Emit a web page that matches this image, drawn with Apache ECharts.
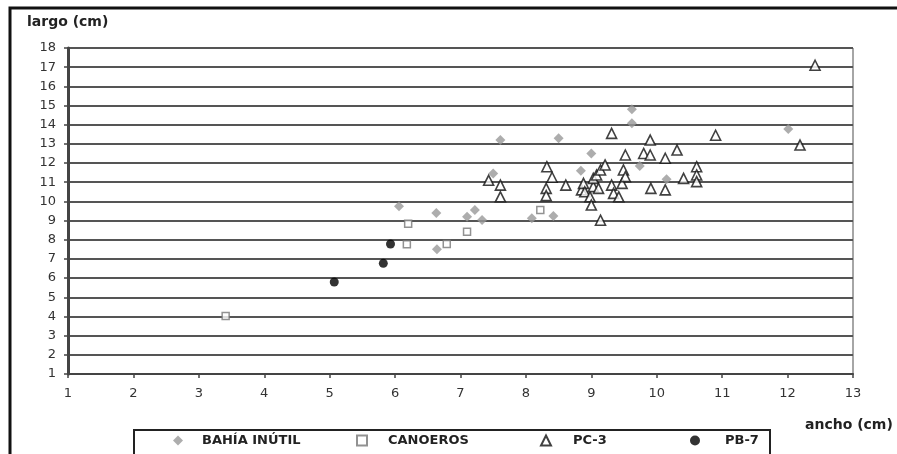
<!DOCTYPE html>
<html>
<head>
<meta charset="utf-8">
<script src="https://cdn.jsdelivr.net/npm/echarts@6/dist/echarts.min.js"></script>
<style>html,body{margin:0;padding:0;background:#fff}#c{width:897px;height:454px}</style>
</head>
<body>
<div id="c"></div>
<script>
// ---- data (ancho cm, largo cm) ----
const seriesNames = ['BAHÍA INÚTIL', 'CANOEROS', 'PC-3', 'PB-7'];
const xTicks = [1,2,3,4,5,6,7,8,9,10,11,12,13];
const yTicks = [1,2,3,4,5,6,7,8,9,10,11,12,13,14,15,16,17,18];
const bahiaInutil = [
  [6.06,9.75],[6.63,9.4],[6.64,7.5],[7.1,9.2],[7.22,9.55],[7.33,9.03],
  [7.5,11.45],[7.61,13.2],[8.09,9.12],[8.42,9.24],[8.5,13.3],[8.84,11.6],
  [9.0,12.5],[9.62,14.07],[9.62,14.8],[9.74,11.85],[10.15,11.15],[12.01,13.78]
];
const canoeros = [
  [3.41,4.02],[6.2,8.84],[6.18,7.76],[6.79,7.78],[7.1,8.42],[8.22,9.55]
];
const pc3 = [
  [7.43,11.1],[7.61,10.85],[7.61,10.24],[8.32,11.81],[8.4,11.26],[8.31,10.68],
  [8.31,10.3],[8.61,10.85],[8.85,10.6],[8.88,10.94],[8.9,10.5],[8.98,10.24],
  [9.0,9.81],[9.03,10.77],[9.03,11.2],[9.08,11.38],[9.11,10.68],[9.14,11.64],
  [9.14,9.02],[9.21,11.9],[9.31,10.85],[9.34,10.42],[9.42,10.24],[9.47,10.94],
  [9.49,11.64],[9.52,11.29],[9.52,12.42],[9.31,13.55],[9.8,12.5],[9.9,12.42],
  [9.9,13.2],[9.91,10.68],[10.13,12.25],[10.13,10.6],[10.31,12.68],[10.41,11.2],
  [10.61,11.81],[10.61,11.38],[10.61,11.03],[10.9,13.45],[12.19,12.94],[12.42,17.1]
];
const pb7 = [[5.07,5.8],[5.82,6.77],[5.93,7.78]];

const FONT = 'DejaVu Sans';
const chart = echarts.init(document.getElementById('c'), null, {renderer:'canvas'});
const legendText = {fontFamily: FONT, fontWeight: 'bold', fontSize: 13, color: '#222'};
function mkLegend(name, left, pad) {
  return {
    data: [name], left: left, top: 434, orient: 'horizontal',
    itemWidth: 10, itemHeight: 10, padding: 0, selectedMode: false,
    textStyle: Object.assign({padding: [0,0,0,pad]}, legendText)
  };
}
chart.setOption({
  backgroundColor: '#fff',
  animation: false,
  grid: {left: 68, right: 44, top: 48, bottom: 80, containLabel: false},
  xAxis: {
    type: 'value', min: xTicks[0], max: xTicks[xTicks.length-1], interval: 1,
    axisLine: {show: true, lineStyle: {color: '#444', width: 2}},
    axisTick: {show: true, inside: false, length: 4, lineStyle: {color: '#444', width: 1.5}},
    axisLabel: {margin: 13, fontFamily: FONT, fontSize: 13, color: '#333',
      formatter: v => xTicks.includes(v) ? String(v) : ''},
    splitLine: {show: false}
  },
  yAxis: {
    type: 'value', min: yTicks[0], max: yTicks[yTicks.length-1], interval: 1,
    axisLine: {show: true, lineStyle: {color: '#444', width: 3}},
    axisTick: {show: true, inside: false, length: 4, lineStyle: {color: '#444', width: 1.5}},
    axisLabel: {margin: 12, fontFamily: FONT, fontSize: 13, color: '#333',
      formatter: v => yTicks.includes(v) ? String(v) : ''},
    splitLine: {show: true, lineStyle: {color: '#555', width: 2}}
  },
  legend: [
    mkLegend(seriesNames[0], 173, 14),
    mkLegend(seriesNames[1], 356, 16),
    mkLegend(seriesNames[2], 540, 17),
    mkLegend(seriesNames[3], 690, 20)
  ],
  graphic: [
    {type: 'rect', silent: true, z: -1, shape: {x: 10, y: 8, width: 1000, height: 1000},
      style: {fill: 'none', stroke: '#111', lineWidth: 3}},
    {type: 'line', silent: true, shape: {x1: 853, y1: 48, x2: 853, y2: 374},
      style: {stroke: '#888', lineWidth: 1.5}},
    {type: 'rect', silent: true, shape: {x: 134, y: 430, width: 636, height: 40},
      style: {fill: 'none', stroke: '#222', lineWidth: 2}},
    {type: 'text', silent: true, left: 27, top: 15,
      style: {text: 'largo (cm)', font: 'bold 14px "DejaVu Sans"', fill: '#222'}},
    {type: 'text', silent: true, left: 805, top: 418,
      style: {text: 'ancho (cm)', font: 'bold 14px "DejaVu Sans"', fill: '#222'}}
  ],
  series: [
    {name: seriesNames[0], type: 'scatter', data: bahiaInutil, symbol: 'diamond', symbolSize: 10,
      itemStyle: {color: '#999'}, z: 3},
    {name: seriesNames[1], type: 'scatter', data: canoeros, symbol: 'rect', symbolSize: 7,
      itemStyle: {color: '#fff', borderColor: '#777', borderWidth: 1.5}, z: 4},
    {name: seriesNames[2], type: 'scatter', data: pc3, symbol: 'triangle', symbolSize: 10,
      itemStyle: {color: '#fff', borderColor: '#111', borderWidth: 1.6}, z: 5},
    {name: seriesNames[3], type: 'scatter', data: pb7, symbol: 'circle', symbolSize: 9,
      itemStyle: {color: '#000'}, z: 6}
  ]
});
</script>
</body>
</html>
